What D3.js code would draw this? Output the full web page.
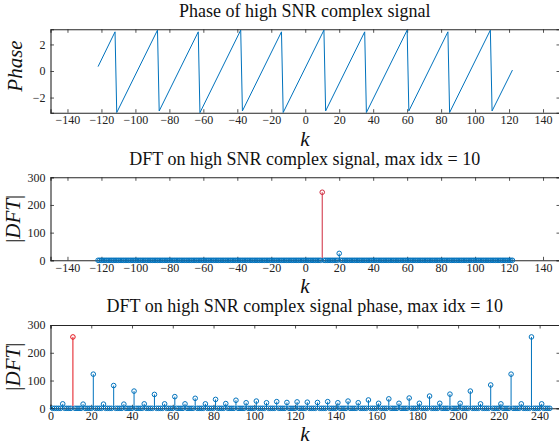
<!DOCTYPE html>
<html><head><meta charset="utf-8">
<script src="https://cdn.jsdelivr.net/npm/d3@7"></script>
<style>
body{margin:0;background:#fff}
svg{display:block}
text{font-family:"Liberation Serif","Times New Roman",serif;fill:#111}
</style>
</head><body>
<svg id="chart" width="559" height="448"></svg>
<script>
// --- Wrapped phase of the complex signal: sawtooth vertices (k, radians) ---
const phaseK = [-122,-112,-111,-87,-86,-63,-62,-38,-37,-14,-13,11,12,35,36,60,61,84,85,109,110,122];
const phaseV = [0.33,2.95,-3.13,3.08,-3.01,2.95,-3.14,3.08,-3.01,2.95,-3.13,3.08,-3.01,2.95,-3.13,3.08,-3.01,2.95,-3.13,3.08,-3.01,0.07];

// --- DFT of the signal: bins k = -122..122, all ~0 except the listed ones ---
const dftKMin = -122, dftKMax = 122;
const dftPeakK = [10, 20];
const dftPeakV = [246, 25];
const dftMaxK = 10;

// --- DFT of the phase: bins k = 1..245, all ~0 except the listed ones ---
const pdftKMin = 1, pdftKMax = 245;
const pdftPeakK = [6,11,16,21,26,31,36,41,46,51,56,61,66,71,76,81,86,91,96,101,106,111,116,121,
                   126,131,136,141,146,151,156,161,166,171,176,181,186,191,196,201,206,211,216,221,226,231,236,241];
const pdftPeakV = [16,257,15,123,15,82,15,62,16,50,16,42,16,36,16,32,17,29,20,26,20,24,21,23,
                   22,21,24,20,26,20,30,18,34,18,37,18,44,18,51,18,62,16,84,16,123,16,257,16];
const pdftMaxK = 11;

// --- Tick labels ---
const kTicks = [-140,-120,-100,-80,-60,-40,-20,0,20,40,60,80,100,120,140];
const phaseTicks = [-2,0,2];
const magTicks = [0,100,200,300];
const binTicks = [0,20,40,60,80,100,120,140,160,180,200,220,240];

const BLUE = "#0072BD";
const AXIS = "#262626";
const SERIF = '"Liberation Serif","Times New Roman",serif';
const svg = d3.select("#chart");
const L = 50.5, R = 560;

function panel(o) {
  const g = svg.append("g");
  const x = d3.scaleLinear().domain(o.xDomain).range([L, R]);
  const y = d3.scaleLinear().domain(o.yDomain).range([o.bottom, o.top]);
  const tk = 3.5;

  const ax = d3.axisBottom(x).tickValues(o.xTicks).tickSize(-tk).tickPadding(3).tickFormat(d3.format("d"));
  g.append("g").attr("transform", `translate(0,${o.bottom})`).call(ax);
  const axTop = d3.axisTop(x).tickValues(o.xTicks).tickSize(-tk).tickFormat("");
  g.append("g").attr("transform", `translate(0,${o.top})`).call(axTop);
  const ay = d3.axisLeft(y).tickValues(o.yTicks).tickSize(-tk).tickPadding(5).tickFormat(d3.format("d"));
  g.append("g").attr("transform", `translate(${L},0)`).call(ay);
  const ayR = d3.axisRight(y).tickValues(o.yTicks).tickSize(-tk).tickFormat("");
  g.append("g").attr("transform", `translate(${R},0)`).call(ayR);

  g.selectAll(".domain").attr("stroke", AXIS).attr("stroke-width", 1.1);
  g.selectAll(".tick line").attr("stroke", AXIS).attr("stroke-width", 0.8);
  g.selectAll(".tick text").style("font-family", SERIF).style("font-size", "12px").style("fill", "#222");

  // title
  g.append("text").attr("x", (L + R) / 2 - 0.5).attr("y", o.titleY)
    .attr("text-anchor", "middle").style("font-size", "18px").text(o.title);
  // x label
  g.append("text").attr("x", 305).attr("y", o.kY).attr("text-anchor", "middle")
    .style("font-size", "21px").style("font-style", "italic").text("k");
  // y label
  const yl = g.append("text").attr("transform", `translate(${o.ylX},${(o.top + o.bottom) / 2 - o.ylShift}) rotate(-90)`)
    .attr("text-anchor", "middle").style("font-size", "21px");
  o.ylParts.forEach(p => yl.append("tspan").style("font-style", p[1] ? "italic" : "normal").text(p[0]));

  const plot = g.append("g");
  o.draw(plot, x, y);
}

function stems(plot, x, y, ks, vs, maxK, red) {
  const data = ks.map((k, i) => ({k, v: vs[i]}));
  const color = d => d.k === maxK ? red : BLUE;
  plot.selectAll("line.stem").data(data).join("line").attr("class", "stem")
    .attr("x1", d => x(d.k)).attr("x2", d => x(d.k))
    .attr("y1", y(0)).attr("y2", d => y(d.v))
    .attr("stroke", color).attr("stroke-width", 1);
  plot.selectAll("circle.mk").data(data).join("circle").attr("class", "mk")
    .attr("cx", d => x(d.k)).attr("cy", d => y(d.v)).attr("r", 2.3)
    .attr("fill", "none").attr("stroke", color).attr("stroke-width", 1);
}

function fullSeries(kMin, kMax, peakK, peakV) {
  const ks = d3.range(kMin, kMax + 1);
  const vs = ks.map(k => { const i = peakK.indexOf(k); return i >= 0 ? peakV[i] : 0; });
  return [ks, vs];
}

// 1) phase
panel({
  xDomain: [-150, 150], yDomain: [-Math.PI, Math.PI], top: 29.3, bottom: 112.7,
  xTicks: kTicks, yTicks: phaseTicks,
  title: "Phase of high SNR complex signal", titleY: 16.5, kY: 145.5,
  ylX: 22, ylShift: 5, ylParts: [["Phase", true]],
  draw: (plot, x, y) => {
    const line = d3.line().x((d, i) => x(phaseK[i])).y(d => y(d));
    plot.append("path").attr("d", line(phaseV)).attr("fill", "none")
      .attr("stroke", BLUE).attr("stroke-width", 1);
  }
});

// 2) DFT of signal
panel({
  xDomain: [-150, 150], yDomain: [0, 300], top: 177.3, bottom: 260.3,
  xTicks: kTicks, yTicks: magTicks,
  title: "DFT on high SNR complex signal, max idx = 10", titleY: 164.5, kY: 293,
  ylX: 20, ylShift: 0, ylParts: [["|", false], ["DFT", true], ["|", false]],
  draw: (plot, x, y) => {
    const [ks, vs] = fullSeries(dftKMin, dftKMax, dftPeakK, dftPeakV);
    stems(plot, x, y, ks, vs, dftMaxK, "#cf2a3e");
  }
});

// 3) DFT of phase
panel({
  xDomain: [0, 250], yDomain: [0, 300], top: 325, bottom: 408.3,
  xTicks: binTicks, yTicks: magTicks,
  title: "DFT on high SNR complex signal phase, max idx = 10", titleY: 312, kY: 441,
  ylX: 20, ylShift: 0, ylParts: [["|", false], ["DFT", true], ["|", false]],
  draw: (plot, x, y) => {
    const [ks, vs] = fullSeries(pdftKMin, pdftKMax, pdftPeakK, pdftPeakV);
    stems(plot, x, y, ks, vs, pdftMaxK, "#e3141c");
  }
});
</script>
</body></html>
